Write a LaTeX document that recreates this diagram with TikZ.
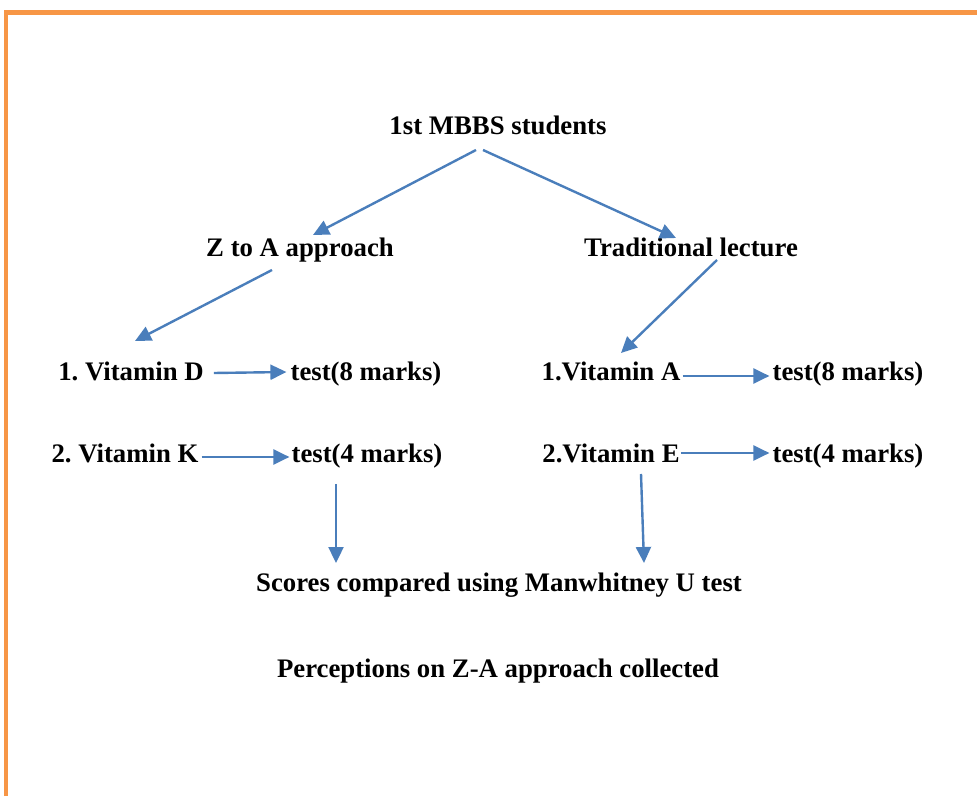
\documentclass[tikz,border=0pt]{standalone}
\usepackage{fontspec}
\setmainfont{Liberation Serif}
\usetikzlibrary{arrows.meta, positioning}
\definecolor{flowblue}{RGB}{74,126,187}
\definecolor{frameorange}{RGB}{247,150,70}
\frenchspacing
\tikzset{
    lbl/.style={inner sep=0pt, anchor=base, font=\fontsize{26.75}{32}\selectfont\bfseries},
    flow/.style={draw=flowblue, line width=2.4pt, -{Triangle[length=16pt, width=15pt]}},
    frameline/.style={draw=frameorange, line width=4.5pt},
}

\begin{document}
\begin{tikzpicture}[x=1pt, y=1pt]
    \useasboundingbox (0,0) rectangle (977,796);
    % Frame
    \draw[frameline] (6,0) -- (6,783.5) -- (977,783.5);

    % Top
    \node[lbl] (stud) at (498,661) {1st MBBS students};

    % Two arms
    \node[lbl] (zta) at (300,539) {Z to A approach};
    \node[lbl] (trad) at (691,539) {Traditional lecture};

    % Left arm topics
    \node[lbl] (vitd) at (131,415) {1. Vitamin D};
    \node[lbl] (testd) at (366,415) {test(8 marks)};
    \node[lbl] (vitk) at (125,333) {2. Vitamin K};
    \node[lbl] (testk) at (367,333) {test(4 marks)};

    % Right arm topics
    \node[lbl] (vita) at (611,415) {1.Vitamin A};
    \node[lbl] (testa) at (848,415) {test(8 marks)};
    \node[lbl] (vite) at (611,333) {2.Vitamin E};
    \node[lbl] (teste) at (848,333) {test(4 marks)};

    % Bottom
    \node[lbl] (score) at (499,205) {Scores compared using Manwhitney U test};
    \node[lbl] (perc) at (498,119) {Perceptions on Z-A approach collected};

    % Arrows
    \draw[flow] ([xshift=-22pt, yshift=-15pt]stud.base) -- ([xshift=13pt, yshift=22pt]zta.base);
    \draw[flow] ([xshift=-15pt, yshift=-15pt]stud.base) -- ([xshift=-15pt, yshift=19pt]trad.base);
    \draw[flow] ([xshift=-28pt, yshift=-13pt]zta.base) -- ([xshift=4pt, yshift=40pt]vitd.base);
    \draw[flow] ([xshift=26pt, yshift=-3pt]trad.base) -- ([xshift=10pt, yshift=28pt]vita.base);

    \draw[flow] ([xshift=10pt, yshift=8pt]vitd.base east) -- ([xshift=-4pt, yshift=9pt]testd.base west);
    \draw[flow] ([xshift=3pt, yshift=6pt]vitk.base east) -- ([xshift=-2pt, yshift=6pt]testk.base west);
    \draw[flow] ([xshift=2pt, yshift=5pt]vita.base east) -- ([xshift=-3pt, yshift=5pt]testa.base west);
    \draw[flow] ([xshift=1pt, yshift=10pt]vite.base east) -- ([xshift=-3pt, yshift=10pt]teste.base west);

    \draw[flow] ([xshift=-31pt, yshift=-21pt]testk.base) -- ([xshift=-163pt, yshift=28pt]score.base);
    \draw[flow] ([xshift=30pt, yshift=-11pt]vite.base) -- ([xshift=145pt, yshift=28pt]score.base);
\end{tikzpicture}
\end{document}
